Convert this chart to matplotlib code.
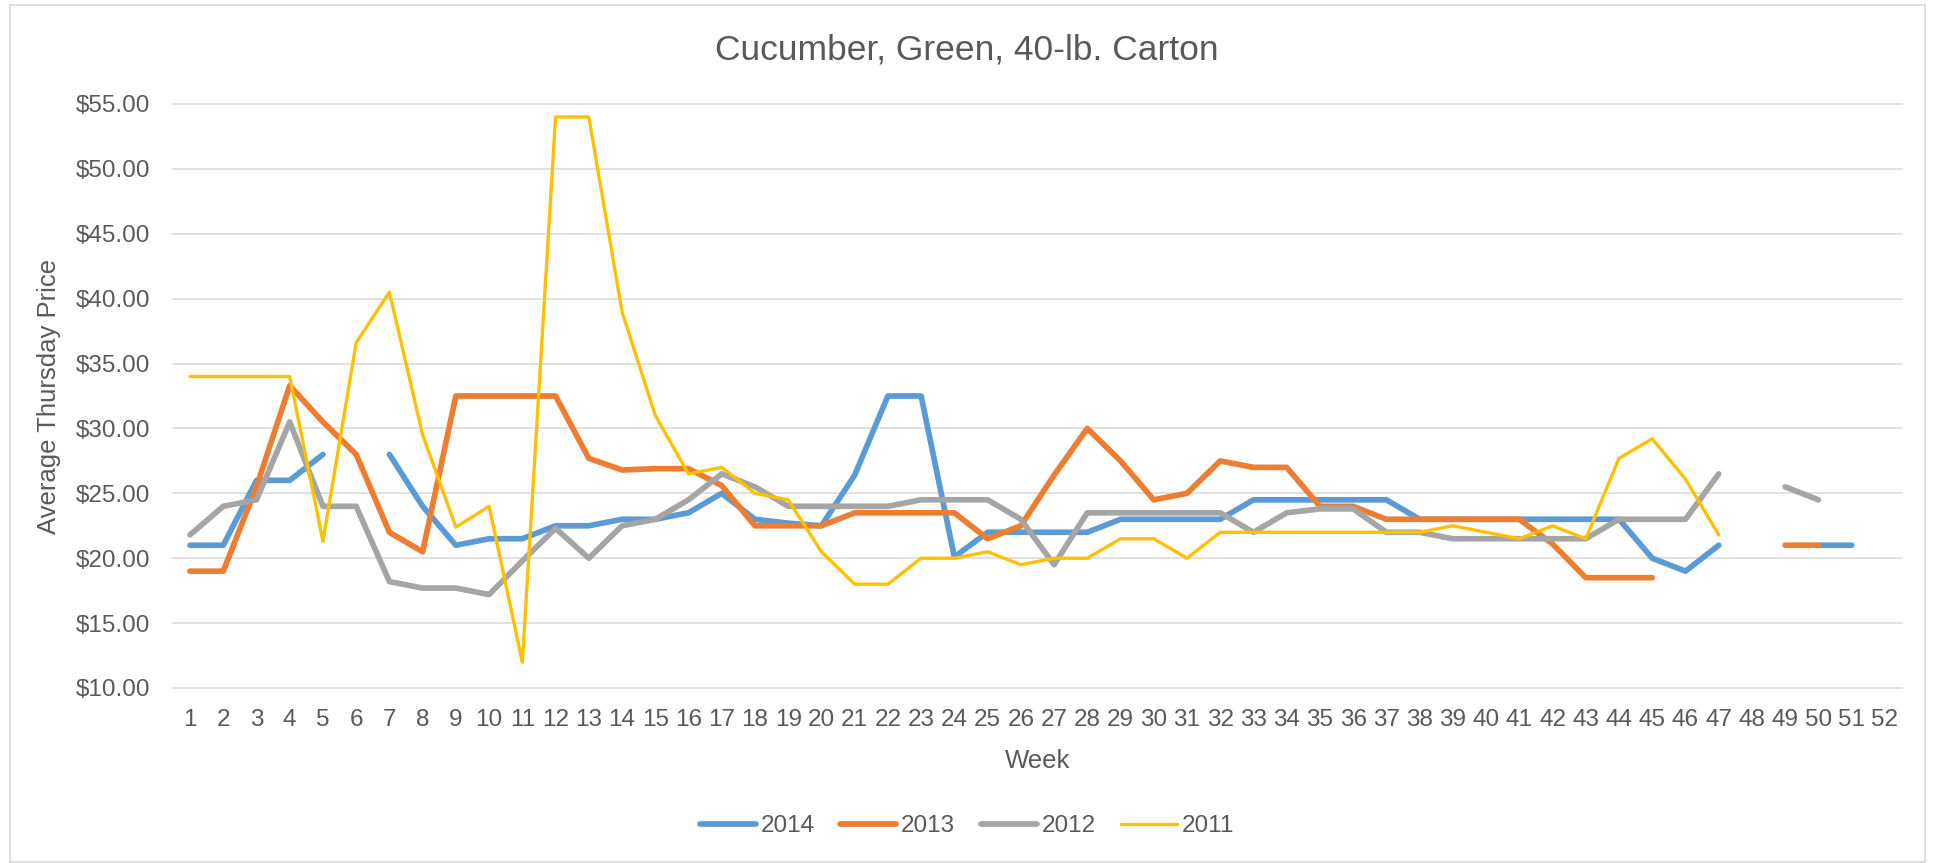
import matplotlib.pyplot as plt
import matplotlib.patches as patches
import numpy as np

nan = np.nan
weeks = list(range(1, 53))

# weekly average Thursday prices
p2014 = [21, 21, 26, 26, 28, nan, 28, 24, 21, 21.5, 21.5, 22.5, 22.5, 23, 23, 23.5, 25, 23, 22.7, 22.5,
         26.4, 32.5, 32.5, 20.1, 22, 22, 22, 22, 23, 23, 23, 23, 24.5, 24.5, 24.5, 24.5, 24.5, 23, 23, 23,
         23, 23, 23, 23, 20, 19, 21, nan, nan, 21, 21, nan]
p2013 = [19, 19, 25.5, 33.3, 30.5, 28, 22, 20.5, 32.5, 32.5, 32.5, 32.5, 27.7, 26.8, 26.9, 26.9, 25.6, 22.5,
         22.5, 22.5, 23.5, 23.5, 23.5, 23.5, 21.5, 22.5, 26.4, 30, 27.5, 24.5, 25, 27.5, 27, 27, 24, 24, 23,
         23, 23, 23, 23, 21.1, 18.5, 18.5, 18.5, nan, nan, nan, 21, 21, nan, nan]
p2012 = [21.8, 24, 24.5, 30.5, 24, 24, 18.2, 17.7, 17.7, 17.2, 19.8, 22.3, 20, 22.5, 23, 24.5, 26.5, 25.5,
         24, 24, 24, 24, 24.5, 24.5, 24.5, 23, 19.5, 23.5, 23.5, 23.5, 23.5, 23.5, 22, 23.5, 23.8, 23.8, 22,
         22, 21.5, 21.5, 21.5, 21.5, 21.5, 23, 23, 23, 26.5, nan, 25.5, 24.5, nan, nan]
p2011 = [34, 34, 34, 34, 21.3, 36.6, 40.5, 29.5, 22.4, 24, 12, 54, 54, 39, 31, 26.5, 27, 25, 24.5, 20.5,
         18, 18, 20, 20, 20.5, 19.5, 20, 20, 21.5, 21.5, 20, 22, 22, 22, 22, 22, 22, 22, 22.5, 22, 21.5,
         22.5, 21.5, 27.7, 29.2, 26.1, 21.8, nan, nan, nan, nan, nan]

years = ['2014', '2013', '2012', '2011']
series = [p2014, p2013, p2012, p2011]
colors = ['#5B9BD5', '#ED7D31', '#A5A5A5', '#FFC000']
widths = [4.1, 4.1, 4.1, 2.4]
yticks = [10, 15, 20, 25, 30, 35, 40, 45, 50, 55]

txt = '#595959'
plt.rcParams['font.family'] = ['Liberation Sans Narrow', 'Liberation Sans', 'DejaVu Sans']

fig = plt.figure(figsize=(19.37, 8.63), dpi=100)
W, H = 1937, 863
ax = fig.add_axes([173.4 / W, 175 / H, (1901.5 - 173.4) / W, 584 / H])

# chart border
fig.patches.append(patches.Rectangle((10 / W, 1 / H), 1915 / W, 857 / H, transform=fig.transFigure,
                                     fill=False, edgecolor='#D9D9D9', linewidth=1.2))

for v in yticks:
    ax.axhline(v, color='#D9D9D9', linewidth=1.1, zorder=0, clip_on=False)

for yr, vals, c, lw in zip(years, series, colors, widths):
    ax.plot(weeks, vals, color=c, linewidth=lw, label=yr,
            solid_capstyle='round', solid_joinstyle='round')

ax.set_xlim(0.5, 52.5)
ax.set_ylim(10, 55)
ax.set_xticks(weeks)
ax.set_xticklabels([str(w) for w in weeks])
ax.set_yticks(yticks)
ax.set_yticklabels(['${:.2f}'.format(v) for v in yticks])
ax.tick_params(axis='both', length=0, labelsize=17.5, labelcolor=txt)
ax.tick_params(axis='x', pad=15)
ax.tick_params(axis='y', pad=17)
for s in ax.spines.values():
    s.set_visible(False)

ax.set_xlabel('Week', fontsize=18.5, color=txt)
ax.xaxis.set_label_coords(0.5, -0.105)
ax.set_ylabel('Average Thursday Price', fontsize=18.5, color=txt)
ax.yaxis.set_label_coords(-0.065, 0.5)

fig.text(967 / W, 1 - 50 / H, 'Cucumber, Green, 40-lb. Carton', fontsize=25.5, color=txt,
         ha='center', va='center')

fig.legend(loc='center', bbox_to_anchor=(967 / W, 1 - 826 / H), ncol=4, frameon=False,
           fontsize=17.5, labelcolor=txt, handlelength=2.3, handletextpad=0.2, columnspacing=1.05)

fig.savefig('out.png', dpi=100)
